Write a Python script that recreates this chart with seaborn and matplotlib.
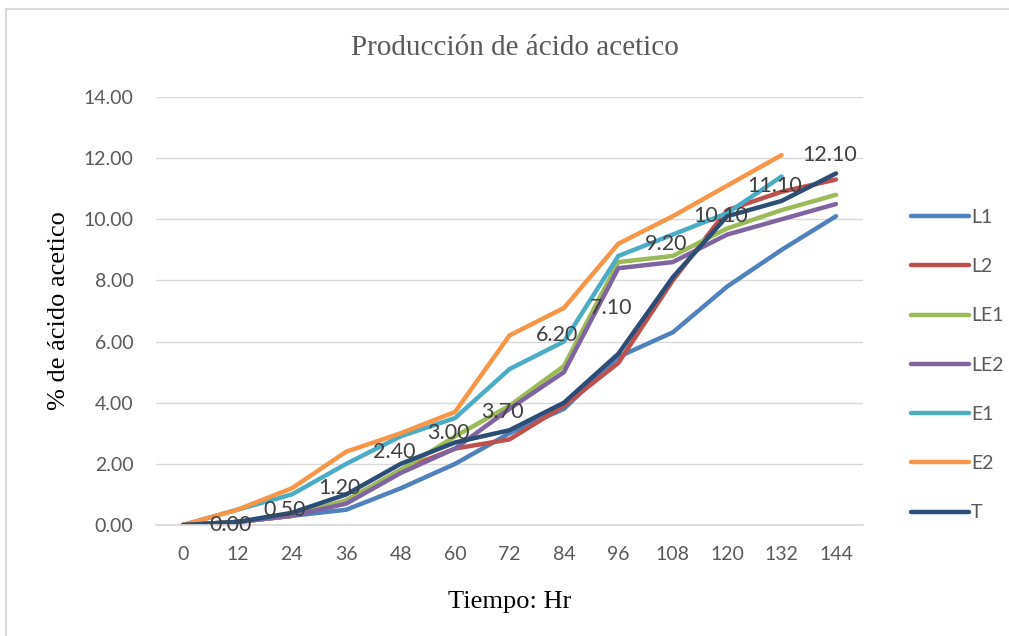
import pandas as pd
import numpy as np
import matplotlib
matplotlib.use("Agg")
import matplotlib.pyplot as plt
from matplotlib.lines import Line2D
import seaborn as sns

# hours of sampling
horas = [0, 12, 24, 36, 48, 60, 72, 84, 96, 108, 120, 132, 144]

# % acetic acid per treatment
L1 = [0, 0.1, 0.3, 0.5, 1.2, 2.0, 3.0, 3.8, 5.5, 6.3, 7.8, 9.0, 10.1]
L2 = [0, 0.1, 0.3, 0.8, 1.8, 2.5, 2.8, 3.9, 5.3, 8.0, 10.3, 10.9, 11.3]
LE1 = [0, 0.1, 0.3, 0.8, 1.8, 2.9, 3.9, 5.2, 8.6, 8.8, 9.7, 10.3, 10.8]
LE2 = [0, 0.1, 0.3, 0.7, 1.7, 2.5, 3.8, 5.0, 8.4, 8.6, 9.5, 10.0, 10.5]
E1 = [0, 0.5, 1.0, 2.0, 2.9, 3.5, 5.1, 6.0, 8.8, 9.5, 10.2, 11.4]
E2 = [0, 0.5, 1.2, 2.4, 3.0, 3.7, 6.2, 7.1, 9.2, 10.1, 11.1, 12.1]
T = [0, 0.1, 0.4, 1.0, 2.0, 2.7, 3.1, 4.0, 5.6, 8.1, 10.1, 10.6, 11.5]

series = {"L1": L1, "L2": L2, "LE1": LE1, "LE2": LE2, "E1": E1, "E2": E2, "T": T}
colores = ["#4F81BD", "#C0504D", "#9BBB59", "#8064A2", "#4BACC6", "#F79646", "#2C4D75"]

rows = []
for name, vals in series.items():
    for h, v in zip(horas, vals):
        rows.append({"hora": h, "valor": v, "serie": name})
df = pd.DataFrame(rows)

sns.set_theme(style="white")
plt.rcParams["font.family"] = ["Lato", "DejaVu Sans"]

fig = plt.figure(figsize=(10.09, 6.36), dpi=100)
ax = fig.add_axes([155.8 / 1009, 1 - 525 / 636, (863.2 - 155.8) / 1009, (525 - 97) / 636])

sns.lineplot(data=df, x="hora", y="valor", hue="serie", hue_order=list(series.keys()),
             palette=colores, linewidth=3.2, ax=ax, legend=False,
             solid_capstyle="round", solid_joinstyle="round")

# data labels of E2 (shifted one category like in the original sheet)
for i, v in enumerate(E2):
    ax.text(horas[i] + 12 - 1.5, v, f"{v:.2f}", ha="center", va="center",
            fontsize=15.5, color="#404040", zorder=5)

ax.set_xlim(-6, 150)
ax.set_ylim(0, 14)
ax.set_xticks(horas)
ax.set_xticklabels([str(h) for h in horas])
ax.set_yticks(np.arange(0, 15, 2))
ax.set_yticklabels([f"{y:.2f}" for y in np.arange(0, 15, 2)])
ax.tick_params(axis="both", length=0, labelsize=14, labelcolor="#595959")
ax.tick_params(axis="y", pad=16)
ax.tick_params(axis="x", pad=15)
ax.grid(axis="y", color="#D9D9D9", linewidth=1)
ax.set_axisbelow(True)
for s in ["top", "right", "left"]:
    ax.spines[s].set_visible(False)
ax.spines["bottom"].set_color("#D9D9D9")

ax.set_xlabel("Tiempo: Hr", fontsize=19, family="Liberation Serif", color="black", labelpad=20)
ax.set_ylabel("% de ácido acetico", fontsize=19, family="Liberation Serif", color="black", labelpad=10)
fig.text(515 / 1009, 1 - 48 / 636, "Producción de ácido acetico",
         ha="center", va="center", fontsize=21, family="Liberation Serif", color="#595959")

# legend on the right
handles = [Line2D([0], [0], color=c, lw=3.2, solid_capstyle="round") for c in colores]
fig.legend(handles, list(series.keys()), loc="upper left", bbox_to_anchor=(903 / 1009, 1 - 201 / 636),
           frameon=False, fontsize=14, labelcolor="#595959", handlelength=3.0,
           handletextpad=0.1, labelspacing=1.66, borderaxespad=0)

# chart border (only top/left edges visible)
fig.add_artist(Line2D([6 / 1009, 6 / 1009], [0, 1 - 9 / 636], transform=fig.transFigure,
                      color="#D9D9D9", lw=1.5))
fig.add_artist(Line2D([6 / 1009, 1], [1 - 9 / 636, 1 - 9 / 636], transform=fig.transFigure,
                      color="#D9D9D9", lw=1.5))

fig.savefig("out.png", dpi=100)
